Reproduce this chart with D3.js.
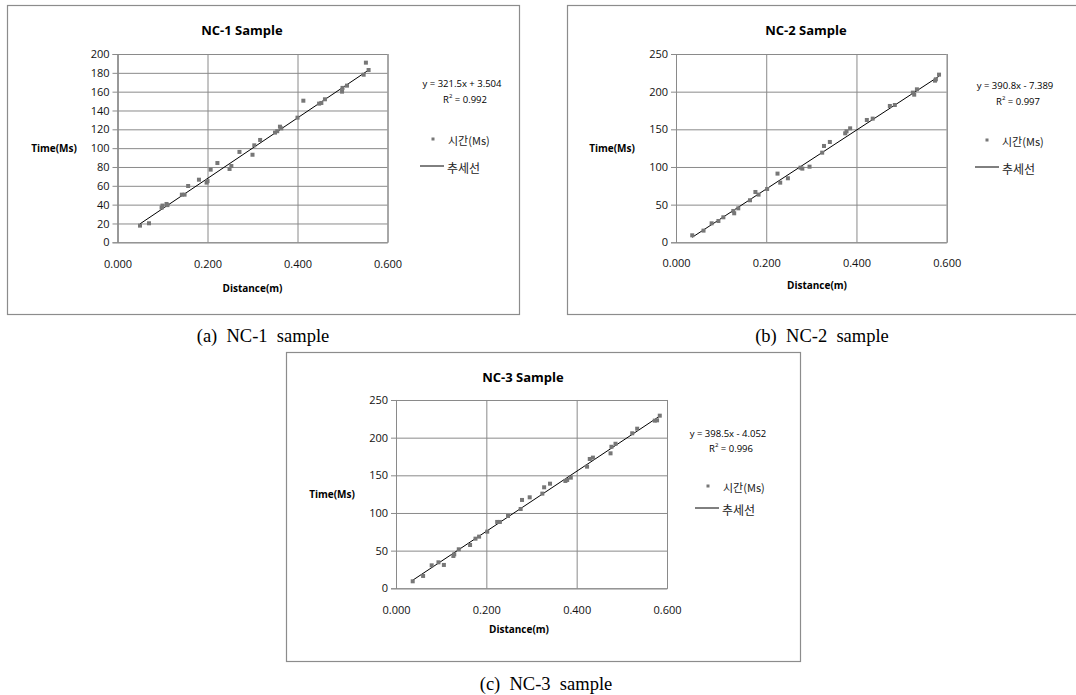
<!DOCTYPE html>
<html>
<head>
  <meta charset="utf-8" />
  <title>NC Sample trendlines</title>
  <script src="https://d3js.org/d3.v7.min.js"></script>
</head>
<body>
  <div id='graph'></div>
</body>
<style>
  body { margin: 0; background: #fff; }
  svg { display: block; }
</style>
<script>
  // data (distance in m, time in ms)
  var nc1Distance = [0.050, 0.070, 0.098, 0.100, 0.109, 0.111, 0.143, 0.149, 0.157, 0.181, 0.198, 0.200,
    0.207, 0.222, 0.249, 0.253, 0.271, 0.300, 0.304, 0.317, 0.350, 0.355, 0.361, 0.364, 0.400, 0.413,
    0.448, 0.453, 0.461, 0.499, 0.500, 0.510, 0.547, 0.552, 0.558]
  var nc1Time = [17.7, 20.2, 36.8, 39.0, 40.7, 39.5, 50.6, 50.6, 59.8, 66.5, 63.4, 65.0,
    77.2, 84.2, 77.9, 81.0, 96.0, 93.0, 103.0, 108.7, 116.5, 118.0, 122.8, 121.0, 132.4, 150.4,
    147.3, 148.0, 151.9, 160.0, 164.0, 166.4, 178.0, 190.8, 183.0]

  var nc2Distance = [0.036, 0.061, 0.079, 0.094, 0.105, 0.127, 0.129, 0.138, 0.164, 0.176, 0.183, 0.202,
    0.225, 0.231, 0.248, 0.276, 0.280, 0.296, 0.324, 0.328, 0.341, 0.375, 0.378, 0.386, 0.423, 0.436,
    0.474, 0.485, 0.525, 0.528, 0.534, 0.574, 0.576, 0.583]
  var nc2Time = [9.3, 15.5, 25.2, 28.3, 33.2, 41.6, 38.5, 45.1, 55.8, 66.8, 63.3, 70.8,
    91.2, 79.2, 85.0, 99.1, 97.8, 100.4, 119.0, 127.9, 133.2, 144.7, 147.3, 151.3, 162.4, 164.2,
    181.0, 182.3, 198.7, 196.0, 203.1, 214.6, 216.4, 222.6]

  var nc3Distance = [0.037, 0.060, 0.079, 0.094, 0.106, 0.127, 0.129, 0.139, 0.164, 0.176, 0.184, 0.202,
    0.224, 0.230, 0.248, 0.276, 0.279, 0.296, 0.324, 0.328, 0.341, 0.375, 0.379, 0.387, 0.423, 0.429,
    0.436, 0.475, 0.477, 0.486, 0.523, 0.534, 0.573, 0.578, 0.584]
  var nc3Time = [9.3, 16.4, 30.5, 34.5, 31.0, 42.9, 45.1, 51.8, 57.5, 65.9, 68.6, 75.2,
    88.1, 88.1, 96.0, 105.3, 117.3, 120.8, 125.7, 134.1, 138.9, 142.5, 143.8, 146.9, 161.5, 171.7,
    173.5, 179.2, 187.9, 191.9, 205.8, 211.9, 222.6, 223.0, 229.2]

  // trendline equations printed on the charts
  var trendSlope = [321.5, 390.8, 398.5]
  var trendIntercept = [3.504, -7.389, -4.052]
  var equationLabels = ['y = 321.5x + 3.504', 'y = 390.8x - 7.389', 'y = 398.5x - 4.052']
  var r2Labels = ['0.992', '0.997', '0.996']

  var titles = ['NC-1 Sample', 'NC-2 Sample', 'NC-3 Sample']
  var captions = ['(a)  NC-1  sample', '(b)  NC-2  sample', '(c)  NC-3  sample']
  var xTicks = [0, 0.2, 0.4, 0.6]
  var yTicks1 = [0, 20, 40, 60, 80, 100, 120, 140, 160, 180, 200]
  var yTicks2 = [0, 50, 100, 150, 200, 250]
  var seriesName = '시간(Ms)'
  var trendName = '추세선'

  // layout of each panel (pixels)
  var panels = [
    { x: nc1Distance, y: nc1Time, yTicks: yTicks1, k: 0,
      box: [7, 5, 519, 314], plot: [117.5, 54, 387.5, 242.3],
      titleX: 242, titleY: 30, timeX: 54, xLabY: 264, distX: 252.5, distY: 288,
      eqX: 462, eqY: 83, r2Y: 99, mkX: 433, mkY: 139, lnX: 420, lnY: 166, capX: 263, capY: 336 },
    { x: nc2Distance, y: nc2Time, yTicks: yTicks2, k: 1,
      box: [567, 5, 1080, 314], plot: [676, 54, 946.7, 242.3],
      titleX: 806, titleY: 30, timeX: 612, xLabY: 263, distX: 817, distY: 285,
      eqX: 1015, eqY: 85, r2Y: 101, mkX: 987, mkY: 140, lnX: 975, lnY: 167, capX: 822, capY: 336 },
    { x: nc3Distance, y: nc3Time, yTicks: yTicks2, k: 2,
      box: [286, 352, 800, 661], plot: [396, 400, 667, 588.3],
      titleX: 523, titleY: 377, timeX: 332, xLabY: 610, distX: 519, distY: 629,
      eqX: 728, eqY: 433, r2Y: 448, mkX: 708, mkY: 486, lnX: 695, lnY: 508, capX: 546, capY: 684 }
  ]

  var font = "'Open Sans', 'Noto Sans', sans-serif"
  var krFont = "'Noto Sans CJK KR', 'Noto Sans', sans-serif"
  var gridColor = '#8a8a8a'

  const canvas = d3.select('#graph').append('svg')
    .attr('width', 1076)
    .attr('height', 695)
    .style('background', '#fff')

  function drawPanel (p) {
    const g = canvas.append('g')

    g.append('rect')
      .attr('x', p.box[0] + 0.5).attr('y', p.box[1] + 0.5)
      .attr('width', p.box[2] - p.box[0]).attr('height', p.box[3] - p.box[1])
      .attr('fill', '#fff').attr('stroke', '#8c8c8c').attr('stroke-width', 1.2)

    var xScale = d3.scaleLinear().domain([0, 0.6]).range([p.plot[0], p.plot[2]])
    var yScale = d3.scaleLinear().domain([0, d3.max(p.yTicks)]).range([p.plot[3], p.plot[1]])
    var w = p.plot[2] - p.plot[0]
    var h = p.plot[3] - p.plot[1]

    // horizontal gridlines + left ticks/labels
    g.append('g')
      .attr('transform', 'translate(' + p.plot[0] + ',0)')
      .call(d3.axisLeft(yScale).tickValues(p.yTicks).tickSize(-w).tickFormat(''))
      .call(a => a.select('.domain').remove())
      .selectAll('line').attr('stroke', gridColor)

    g.append('g')
      .attr('transform', 'translate(' + p.plot[0] + ',0)')
      .call(d3.axisLeft(yScale).tickValues(p.yTicks).tickSize(5).tickPadding(3))
      .call(a => a.select('.domain').attr('stroke', gridColor))
      .call(a => a.selectAll('line').attr('stroke', gridColor))
      .selectAll('text')
        .attr('fill', '#111')
        .style('font-family', font)
        .style('font-size', '11px')

    // vertical gridlines
    g.append('g')
      .attr('transform', 'translate(0,' + p.plot[3] + ')')
      .call(d3.axisBottom(xScale).tickValues(xTicks).tickSize(-h).tickFormat(''))
      .call(a => a.select('.domain').attr('stroke', gridColor))
      .selectAll('line').attr('stroke', gridColor)

    // x tick labels
    g.append('g')
      .attr('transform', 'translate(0,' + p.xLabY + ')')
      .call(d3.axisBottom(xScale).tickValues(xTicks).tickSize(0).tickPadding(0).tickFormat(d3.format('.3f')))
      .call(a => a.select('.domain').remove())
      .selectAll('text')
        .attr('dy', '0.35em')
        .attr('fill', '#111')
        .style('font-family', font)
        .style('font-size', '11px')

    // trendline across the data range
    var xr = d3.extent(p.x)
    var a = trendSlope[p.k], b = trendIntercept[p.k]
    g.append('line')
      .attr('x1', xScale(xr[0])).attr('y1', yScale(a * xr[0] + b))
      .attr('x2', xScale(xr[1])).attr('y2', yScale(a * xr[1] + b))
      .attr('stroke', '#000').attr('stroke-width', 1)

    // points
    g.selectAll('.pt')
      .data(p.x.map((d, i) => [d, p.y[i]]))
      .enter()
      .append('rect')
      .attr('class', 'pt')
      .attr('x', d => xScale(d[0]) - 2)
      .attr('y', d => yScale(d[1]) - 2)
      .attr('width', 4).attr('height', 4)
      .attr('fill', '#777')

    // titles
    g.append('text')
      .attr('x', p.titleX).attr('y', p.titleY)
      .attr('text-anchor', 'middle').attr('dominant-baseline', 'central')
      .style('font-family', font).style('font-weight', 'bold').style('font-size', '13px')
      .text(titles[p.k])

    g.append('text')
      .attr('x', p.timeX).attr('y', (p.plot[1] + p.plot[3]) / 2)
      .attr('text-anchor', 'middle').attr('dominant-baseline', 'central')
      .style('font-family', font).style('font-weight', 'bold').style('font-size', '10px')
      .text('Time(Ms)')

    g.append('text')
      .attr('x', p.distX).attr('y', p.distY)
      .attr('text-anchor', 'middle').attr('dominant-baseline', 'central')
      .style('font-family', font).style('font-weight', 'bold').style('font-size', '10px')
      .text('Distance(m)')

    // equation and R²
    g.append('text')
      .attr('x', p.eqX).attr('y', p.eqY)
      .attr('text-anchor', 'middle').attr('dominant-baseline', 'central')
      .style('font-family', font).style('font-size', '9.5px')
      .text(equationLabels[p.k])

    const r2 = g.append('text')
      .attr('x', p.eqX + 3).attr('y', p.r2Y)
      .attr('text-anchor', 'middle').attr('dominant-baseline', 'central')
      .style('font-family', font).style('font-size', '9.5px')
    r2.append('tspan').text('R')
    r2.append('tspan').attr('dy', -3).style('font-size', '6px').text('2')
    r2.append('tspan').attr('dy', 3).text(' = ' + r2Labels[p.k])

    // legend
    g.append('rect')
      .attr('x', p.mkX - 1.5).attr('y', p.mkY - 1.5)
      .attr('width', 3).attr('height', 3)
      .attr('fill', '#777')
    g.append('text')
      .attr('x', p.mkX + 15).attr('y', p.mkY + 1)
      .attr('dominant-baseline', 'central')
      .style('font-family', krFont).style('font-size', '11px').attr('fill', '#222')
      .text(seriesName)
    g.append('line')
      .attr('x1', p.lnX).attr('x2', p.lnX + 24)
      .attr('y1', p.lnY).attr('y2', p.lnY)
      .attr('stroke', '#000').attr('stroke-width', 1)
    g.append('text')
      .attr('x', p.lnX + 27).attr('y', p.lnY + 1)
      .attr('dominant-baseline', 'central')
      .style('font-family', krFont).style('font-size', '12px').attr('fill', '#222')
      .text(trendName)

    // caption under the panel
    canvas.append('text')
      .attr('x', p.capX).attr('y', p.capY)
      .attr('text-anchor', 'middle').attr('dominant-baseline', 'central')
      .attr('xml:space', 'preserve').style('white-space', 'pre')
      .style('font-family', "'Liberation Serif', 'Times New Roman', serif").style('font-size', '18.5px')
      .text(captions[p.k])
  }

  panels.forEach(drawPanel)
</script>
</html>
